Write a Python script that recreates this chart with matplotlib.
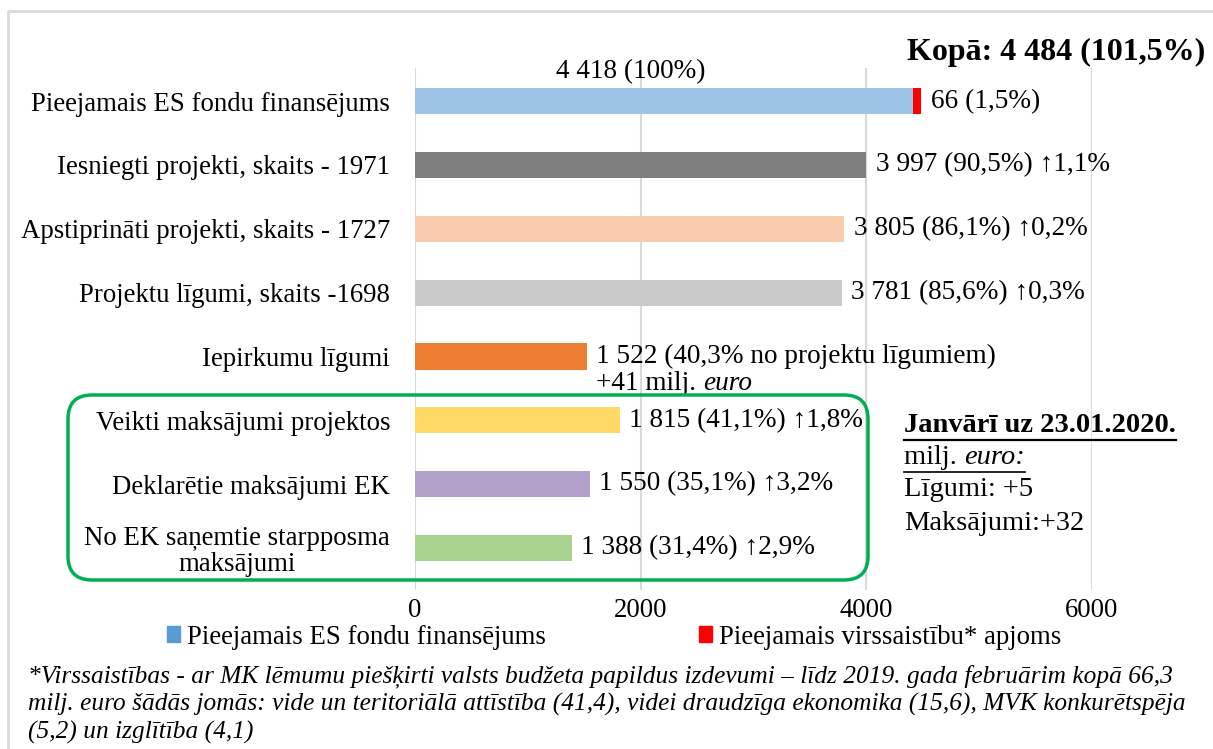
import matplotlib.pyplot as plt
from matplotlib.patches import FancyBboxPatch, Patch

plt.rcParams['font.family'] = ['Liberation Serif', 'DejaVu Serif']

categories = ["Pieejamais ES fondu finansējums",
              "Iesniegti projekti, skaits - 1971",
              "Apstiprināti projekti, skaits - 1727",
              "Projektu līgumi, skaits -1698",
              "Iepirkumu līgumi",
              "Veikti maksājumi projektos",
              "Deklarētie maksājumi EK",
              "No EK saņemtie starpposma\nmaksājumi"]
values = [4418, 3997, 3805, 3781, 1522, 1815, 1550, 1388]
extra = [66, 0, 0, 0, 0, 0, 0, 0]
bar_colors = ["#9DC3E6", "#7F7F7F", "#F8CBAD", "#C9C9C9",
              "#ED7D31", "#FFD966", "#B1A0C7", "#A9D18E"]
value_labels = ["66 (1,5%)",
                "3 997 (90,5%) \u21911,1%",
                "3 805 (86,1%) \u21910,2%",
                "3 781 (85,6%) \u21910,3%",
                "1 522 (40,3% no projektu līgumiem)",
                "1 815 (41,1%) \u21911,8%",
                "1 550 (35,1%) \u21913,2%",
                "1 388 (31,4%) \u21912,9%"]
legend_labels = ["Pieejamais ES fondu finansējums", "Pieejamais virssaistību* apjoms"]
footnote = ["*Virssaistības - ar MK lēmumu piešķirti valsts budžeta papildus izdevumi – līdz 2019. gada februārim kopā 66,3",
            "milj. euro šādās jomās: vide un teritoriālā attīstība (41,4), videi draudzīga ekonomika (15,6), MVK konkurētspēja",
            "(5,2) un izglītība (4,1)"]

W, H = 1213, 749
fig = plt.figure(figsize=(W / 100, H / 100), dpi=100)
fs = 19.3
vfs = 19.6
bfs = 20.5

ax = fig.add_axes([415 / W, 1 - 590 / H, 677 / W, 522 / H])
ypos = list(range(len(categories)))
ax.barh(ypos, values, height=0.41, color=bar_colors, zorder=2)
ax.barh(ypos, extra, left=values, height=0.41, color="#FF0000", zorder=2)
ax.set_xlim(0, 6000)
ax.set_ylim(7.66, -0.52)
ax.set_xticks([0, 2000, 4000, 6000])
ax.grid(axis='x', color="#D9D9D9", linewidth=1.5, zorder=0)
for s in ax.spines.values():
    s.set_visible(False)
ax.tick_params(length=0, labelsize=fs, pad=18)
ax.tick_params(axis='x', pad=6)
ax.set_yticks(ypos)
ax.set_yticklabels(categories)
for t in ax.get_yticklabels():
    t.set_multialignment('center')
    t.set_linespacing(1.05)

for i, (v, e, lab) in enumerate(zip(values, extra, value_labels)):
    ax.text(v + e + 85, i, lab, va='center', ha='left', fontsize=vfs)
ax.text(1915, -0.47, "4 418 (100%)", ha='center', va='center', fontsize=vfs)
t1 = ax.text(1607, 4.42, "+41 milj. ", ha='left', va='center', fontsize=vfs)
ax.annotate("euro", xy=(1, 0), xycoords=t1, ha='left', va='bottom',
            fontsize=vfs, style='italic', family='Liberation Serif')

# overlay in pixel coordinates
ov = fig.add_axes([0, 0, 1, 1], zorder=-1)
ov.set_xlim(0, W)
ov.set_ylim(H, 0)
ov.axis('off')
ov2 = fig.add_axes([0, 0, 1, 1], zorder=5)
ov2.set_xlim(0, W)
ov2.set_ylim(H, 0)
ov2.axis('off')
ov2.patch.set_alpha(0)

ov.plot([8, 8, W], [H, 11, 11], color="#D9D9D9", linewidth=2)
ov2.add_patch(FancyBboxPatch((68, 395), 800, 185,
                             boxstyle="round,pad=0,rounding_size=24",
                             fill=False, edgecolor="#00B050", linewidth=2.5))

ov2.text(1205, 52, "Kopā: 4 484 (101,5%)", ha='right', va='center',
         fontsize=23, fontweight='bold')

j1 = ov2.text(904, 425, "Janvārī uz 23.01.2020.", ha='left', va='center',
              fontsize=bfs, fontweight='bold')
j2 = ov2.text(904, 458, "milj. ", ha='left', va='center', fontsize=bfs)
j3 = ov2.annotate("euro:", xy=(1, 0), xycoords=j2, ha='left', va='bottom',
                  fontsize=bfs, style='italic', family='Liberation Serif')
ov2.text(904, 490, "Līgumi: +5", ha='left', va='center', fontsize=bfs)
ov2.text(904, 523, "Maksājumi:+32", ha='left', va='center', fontsize=bfs)

fig.canvas.draw()
r = fig.canvas.get_renderer()
b1 = j1.get_window_extent(r)
b3 = j3.get_window_extent(r)
ov2.plot([b1.x0, b1.x1], [440, 440], color='black', linewidth=1.6)
ov2.plot([b1.x0, b3.x1], [472, 472], color='black', linewidth=1.2)

handles = [Patch(color="#5B9BD5"), Patch(color="#FF0000")]
fig.legend(handles, legend_labels, loc='center', bbox_to_anchor=(614 / W, 1 - 637 / H),
           ncol=2, frameon=False, fontsize=fs, handlelength=0.5, handleheight=0.5,
           handletextpad=0.25, columnspacing=5.7)

for k, line in enumerate(footnote):
    fig.text(28 / W, 1 - (676 + 28 * k) / H, line, ha='left', va='center',
             fontsize=18.3, style='italic', family='Liberation Serif')

fig.savefig("out.png", dpi=100)
